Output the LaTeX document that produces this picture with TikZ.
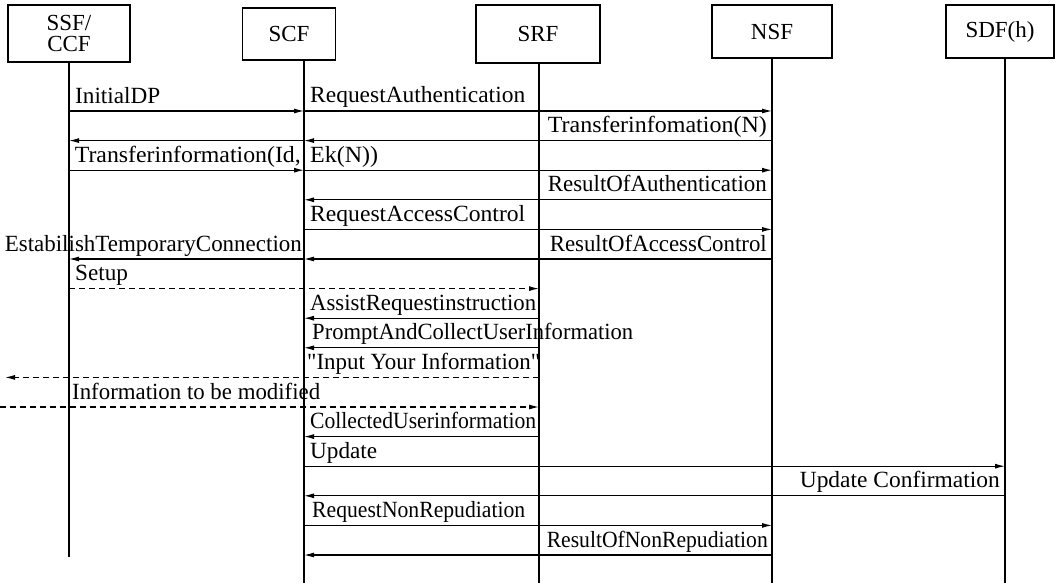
\documentclass[tikz,border=0pt]{standalone}
\usepackage{graphicx}
\usepackage{fontspec}
\setmainfont{Liberation Serif}
\newfontfamily\qfont{Liberation Serif}[Ligatures=TeXOff]
\usetikzlibrary{arrows.meta}
\newcommand\fitw[2]{\resizebox{#1pt}{\height}{#2}}
\begin{document}
\begin{tikzpicture}[x=1pt,y=-1pt,
 box/.style={draw,line width=1.3pt,inner sep=0pt,font=\fontsize{23}{21}\selectfont,align=center},
 life/.style={line width=1.2pt},
 msg/.style={line width=1.1pt,-{Latex[length=10pt,width=5pt]}},
 dmsg/.style={msg,dash pattern=on 6pt off 4pt},
 lbl/.style={inner sep=0pt,font=\fontsize{23.2}{26}\selectfont},
 lw/.style={lbl,anchor=base west},
 le/.style={lbl,anchor=base east},
]
\useasboundingbox (0,0) rectangle (1056,583);
% boxes
\node[box,minimum width=122pt,minimum height=57pt] (ssf) at (69,33.5) {SSF/\\CCF};
\node[box,minimum width=93pt,minimum height=52pt] (scf) at (289,34) {SCF};
\node[box,minimum width=124pt,minimum height=58pt] (srf) at (538,34) {SRF};
\node[box,minimum width=120pt,minimum height=53pt] (nsf) at (772,31.5) {NSF};
\node[box,minimum width=108pt,minimum height=53pt] (sdf) at (1000,31.5) {SDF(h)};
% lifelines
\draw[life] (ssf.south -| 69,0) -- (69,557);
\draw[life] (scf.south -| 304,0) -- (304,583);
\draw[life] (srf.south -| 539,0) -- (539,583);
\draw[life] (nsf.south -| 772,0) -- (772,583);
\draw[life] (sdf.south -| 1005,0) -- (1005,583);
% row coordinates
\foreach \n/\x in {A/69,B/304,C/539,D/772,E/1005}{
  \foreach \i in {0,...,15}{
    \coordinate (\n\i) at (\x, 111+29.6*\i);
  }
}
\coordinate (L9) at (5, 111+29.6*9);
\coordinate (L10) at (0, 111+29.6*10);
% messages
\draw[msg] (A0) -- (B0);
\node[lw] at ([xshift=6pt,yshift=8pt]A0) {InitialDP};
\draw[msg] (B0) -- (D0);
\node[lw] at ([xshift=6pt,yshift=8pt]B0) {\fitw{215}{RequestAuthentication}};

\draw[msg] (D1) -- (B1);
\node[le] at ([xshift=-5pt,yshift=8pt]D1) {\fitw{219}{Transferinfomation(N)}};
\draw[msg] (B1) -- (A1);

\draw[msg] (A2) -- (B2);
\node[le] at ([xshift=-3pt,yshift=8pt]B2) {\fitw{226}{Transferinformation(Id,}};
\draw[msg] (B2) -- (D2);
\node[lw] at ([xshift=6pt,yshift=8pt]B2) {\fitw{68}{Ek(N))}};

\draw[msg] (D3) -- (B3);
\node[le] at ([xshift=-5pt,yshift=8pt]D3) {\fitw{219}{ResultOfAuthentication}};

\draw[msg] (B4) -- (D4);
\node[lw] at ([xshift=6pt,yshift=8pt]B4) {\fitw{215}{RequestAccessControl}};

\draw[msg] (D5) -- (B5);
\node[le] at ([xshift=-5pt,yshift=8pt]D5) {\fitw{217}{ResultOfAccessControl}};
\draw[msg] (B5) -- (A5);
\node[le] at ([xshift=-2pt,yshift=8pt]B5) {\fitw{297}{EstabilishTemporaryConnection}};

\draw[dmsg] (A6) -- (C6);
\node[lw] at ([xshift=6pt,yshift=8pt]A6) {Setup};

\draw[msg] (C7) -- (B7);
\node[lw] at ([xshift=6pt,yshift=8pt]B7) {\fitw{226}{AssistRequestinstruction}};

\draw[msg] (C8) -- (B8);
\node[lw] at ([xshift=8pt,yshift=8pt]B8) {\fitw{321}{PromptAndCollectUserInformation}};

\draw[dmsg] (C9) -- (L9);
\node[lw] at ([xshift=3pt,yshift=8pt]B9) {\fitw{233}{\qfont"Input Your Information"}};

\draw[dmsg] (L10) -- (C10);
\node[lw] at ([xshift=3pt,yshift=8pt]A10) {\fitw{248}{Information to be modified}};

\draw[msg] (C11) -- (B11);
\node[lw] at ([xshift=6pt,yshift=8pt]B11) {\fitw{226}{CollectedUserinformation}};

\draw[msg] (B12) -- (E12);
\node[lw] at ([xshift=6pt,yshift=8pt]B12) {Update};

\draw[msg] (E13) -- (B13);
\node[le] at ([xshift=-5pt,yshift=8pt]E13) {\fitw{200}{Update Confirmation}};

\draw[msg] (B14) -- (D14);
\node[lw] at ([xshift=8pt,yshift=8pt]B14) {\fitw{213}{RequestNonRepudiation}};

\draw[msg] (D15) -- (B15);
\node[le] at ([xshift=-4pt,yshift=8pt]D15) {\fitw{221}{ResultOfNonRepudiation}};
\end{tikzpicture}
\end{document}
